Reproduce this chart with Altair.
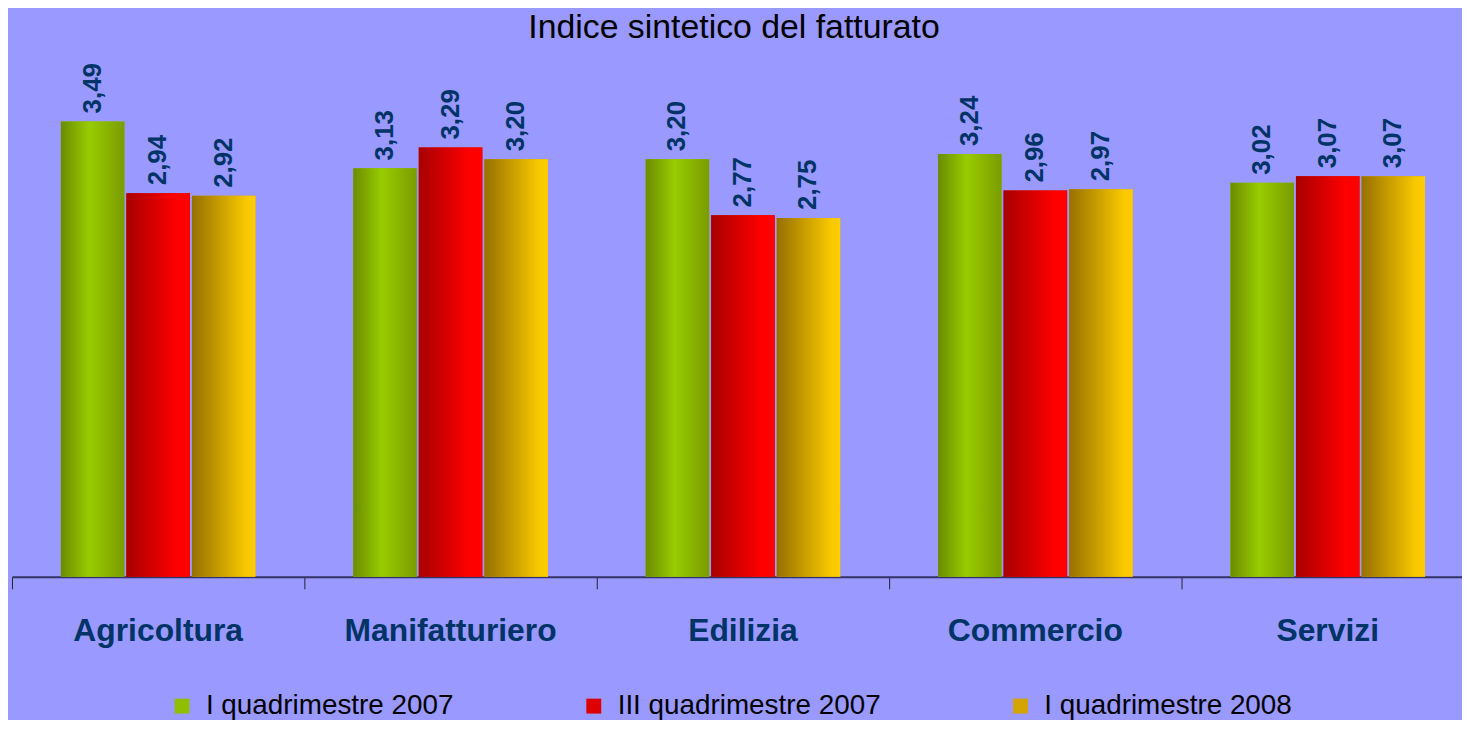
import altair as alt
import pandas as pd

categories = ["Agricoltura", "Manifatturiero", "Edilizia", "Commercio", "Servizi"]
series = ["I quadrimestre 2007", "III quadrimestre 2007", "I quadrimestre 2008"]
values_I_2007 = [3.49, 3.13, 3.20, 3.24, 3.02]
values_III_2007 = [2.94, 3.29, 2.77, 2.96, 3.07]
values_I_2008 = [2.92, 3.20, 2.75, 2.97, 3.07]
legend_colors = ["#8fbf00", "#dd0000", "#d4a400"]

rows = []
for s, vals in zip(series, [values_I_2007, values_III_2007, values_I_2008]):
    for c, v in zip(categories, vals):
        rows.append({"categoria": c, "periodo": s, "valore": v})
df = pd.DataFrame(rows)

def grad(stops):
    return alt.Gradient(
        gradient="linear", x1=0, x2=1, y1=0, y2=0,
        stops=[alt.GradientStop(color=c, offset=o) for o, c in stops],
    )

gradients = [
    grad([(0, "#6a8c00"), (0.45, "#99cc00"), (1, "#7a9c00")]),
    grad([(0, "#a80000"), (0.8, "#ff0000"), (1, "#ff0000")]),
    grad([(0, "#967000"), (0.85, "#f8c800"), (1, "#ffcc00")]),
]

x = alt.X(
    "categoria:N", sort=categories,
    scale=alt.Scale(paddingInner=0, paddingOuter=0),
    axis=alt.Axis(title=None, labelAngle=0, labelLimit=0),
)
xo = alt.XOffset(
    "periodo:N", sort=series,
    scale=alt.Scale(domain=series, paddingInner=0.03, paddingOuter=0.746),
)
y = alt.Y("valore:Q", scale=alt.Scale(domain=[0, 4.1], nice=False), axis=None)

base = alt.Chart(df)

legend_layer = base.mark_bar().encode(
    x=x, xOffset=xo, y=y,
    color=alt.Color(
        "periodo:N", sort=series,
        scale=alt.Scale(domain=series, range=legend_colors),
        legend=alt.Legend(
            title=None, orient="none", legendX=157, legendY=654,
            direction="horizontal", columns=3, columnPadding=126,
            symbolType="square", symbolSize=225, symbolStrokeWidth=0,
            labelFontSize=28, labelFont="Liberation Sans", labelColor="black",
            labelLimit=0, labelOffset=10, padding=0,
        ),
    ),
)

grad_layers = [
    base.transform_filter(alt.datum.periodo == s).mark_bar(color=g).encode(x=x, xOffset=xo, y=y)
    for s, g in zip(series, gradients)
]

labels = base.transform_calculate(
    lab="replace(format(datum.valore, '.2f'), '.', ',')"
).mark_text(
    angle=270, align="left", baseline="middle", dx=8,
    font="Liberation Sans", fontSize=26, fontWeight="bold", color="#003366",
).encode(x=x, xOffset=xo, y=y, text="lab:N")

chart = alt.layer(legend_layer, *grad_layers, labels).properties(
    width=1470, height=538,
    title=alt.TitleParams(
        "Indice sintetico del fatturato", fontSize=34, font="Liberation Sans",
        fontWeight="normal", color="black", anchor="middle", offset=-3, dx=-9,
    ),
    autosize=alt.AutoSizeParams(type="none"),
    padding={"left": 4, "top": 32, "right": -12, "bottom": 142},
).configure(
    background="#9999ff",
).configure_view(
    stroke=None,
).configure_axis(
    domainColor="#333366", domainWidth=2, tickColor="#222233", tickSize=12,
    tickWidth=1, labelPadding=27, labelFontSize=32, labelFont="Liberation Sans",
    labelFontWeight="bold", labelColor="#003366", bandPosition=0, grid=False,
)

chart.save("out.html", embed_options={"renderer": "svg", "actions": False})
